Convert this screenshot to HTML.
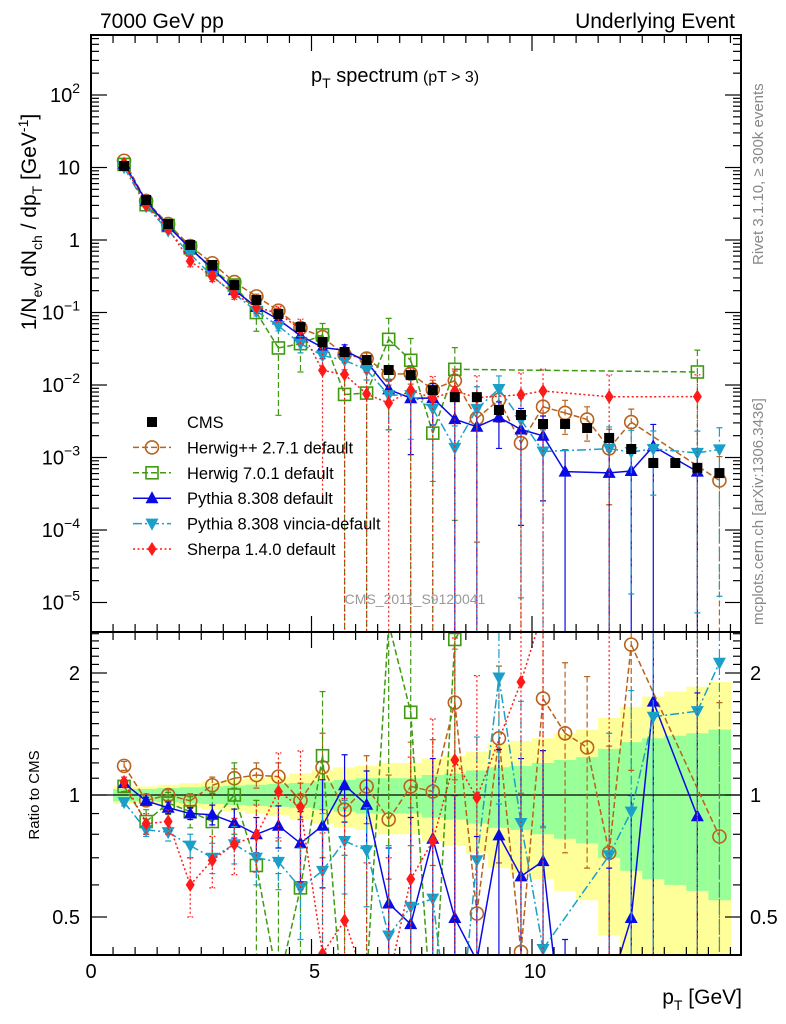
<!DOCTYPE html>
<html><head><meta charset="utf-8"><style>
html,body{margin:0;padding:0;background:#fff;width:786px;height:1024px;overflow:hidden;}
svg{display:block;font-family:"Liberation Sans",sans-serif;overflow:hidden;}
</style></head><body>
<svg id="chart" width="786" height="1024" viewBox="0 0 786 1024" xmlns="http://www.w3.org/2000/svg">
<defs>
<clipPath id="clipU"><rect x="91" y="35" width="650" height="597"/></clipPath>
<clipPath id="clipR"><rect x="91" y="632" width="650" height="323"/></clipPath>
</defs>
<g id="bands" clip-path="url(#clipR)"></g>
<g id="marksR" clip-path="url(#clipR)"></g>
<g id="marksU" clip-path="url(#clipU)"></g>
<g id="axes"></g>
<text x="100" y="28" font-size="21">7000 GeV pp</text>
<text x="735" y="28" font-size="21" text-anchor="end">Underlying Event</text>
<text x="311" y="82" font-size="20">p<tspan font-size="14" dy="6">T</tspan><tspan dy="-6"> spectrum</tspan><tspan font-size="16"> (pT &gt;  3)</tspan></text>
<text transform="translate(36,222) rotate(-90)" font-size="21" text-anchor="middle">1/N<tspan font-size="14" dy="6">ev</tspan><tspan dy="-6"> dN</tspan><tspan font-size="14" dy="6">ch</tspan><tspan dy="-6"> / dp</tspan><tspan font-size="14" dy="6">T</tspan><tspan dy="-6"> [GeV</tspan><tspan font-size="14" dy="-8">-1</tspan><tspan dy="8">]</tspan></text>
<text transform="translate(39,795) rotate(-90)" font-size="15" text-anchor="middle">Ratio to CMS</text>
<text x="742" y="1004" font-size="21" text-anchor="end">p<tspan font-size="14" dy="6">T</tspan><tspan dy="-6"> [GeV]</tspan></text>
<text transform="translate(763,265) rotate(-90)" font-size="15" fill="#888" text-anchor="start">Rivet 3.1.10, ≥ 300k events</text>
<text transform="translate(763,625) rotate(-90)" font-size="15" fill="#888" text-anchor="start">mcplots.cern.ch [arXiv:1306.3436]</text>
<text x="415" y="604" font-size="14" fill="#999" text-anchor="middle">CMS_2011_S9120041</text>
<g id="legend"></g>
</svg>
<script>
const ptBins = [0.75,1.25,1.75,2.25,2.75,3.25,3.75,4.25,4.75,5.25,5.75,6.25,6.75,7.25,7.75,8.25,8.75,9.25,9.75,10.25,10.75,11.25,11.75,12.25,12.75,13.25,13.75,14.25];
const cmsValues = [10.5,3.56,1.66,0.853,0.452,0.239,0.149,0.0954,0.063,0.0392,0.0285,0.0221,0.0161,0.0137,0.0085,0.0068,0.0068,0.00452,0.00386,0.0029,0.0029,0.00255,0.00186,0.00131,0.00084,0.00084,0.00072,0.00061];
const bandYellow = [.05,.05,.06,.07,.08,.09,.1,.11,.13,.15,.17,.18,.2,.2,.23,.25,.28,.34,.36,.38,.42,.45,.55,.65,.75,.8,.85,.9];
const bandGreen = [.035,.035,.04,.045,.05,.055,.06,.065,.07,.08,.09,.1,.1,.1,.12,.13,.15,.17,.18,.2,.22,.24,.3,.35,.38,.4,.42,.45];
const herwigppRatio = [1.18,0.97,1.0,0.967,1.057,1.1,1.12,1.11,0.97,1.17,0.92,1.05,0.87,1.05,1.02,1.69,0.51,1.38,0.41,1.73,1.42,1.31,0.72,2.35,null,null,null,0.79];
const herwigppErr = [.03,.03,.03,.04,.05,.06,.08,.09,.1,.25,.15,.2,.25,.3,.35,.6,.5,.7,.6,.9,.7,.65,.6,1.2,null,null,null,.9];
const herwig7Ratio = [1.05,0.86,0.955,0.91,0.86,1.0,0.67,0.34,0.59,1.25,0.26,0.35,2.65,1.6,0.255,2.42,null,null,null,null,null,null,null,null,null,null,21,null];
const herwig7Err = [.03,.06,.06,.08,.15,.2,.3,.3,.35,.55,.45,.4,2.5,1.6,.3,2.4,null,null,null,null,null,null,null,null,null,null,21,null];
const pythiaRatio = [1.07,0.967,0.93,0.9,0.894,0.853,0.8,0.84,0.76,0.84,1.057,0.946,0.54,0.48,0.78,0.497,0.39,0.795,0.63,0.687,0.22,null,0.33,0.497,1.7,null,0.886,null];
const pythiaErr = [.02,.02,.03,.03,.05,.07,.08,.1,.15,.25,.2,.2,.2,.4,.45,.5,.4,.5,.6,.6,.22,null,.33,.5,1.7,null,.9,null];
const vinciaRatio = [0.96,0.82,0.81,0.75,0.7,0.756,0.7,0.684,0.59,0.65,0.77,0.73,0.45,0.53,0.555,0.2,0.69,1.95,0.853,0.417,null,null,0.71,0.91,1.56,null,1.61,2.12];
const vinciaErr = [.02,.03,.04,.05,.06,.08,.1,.1,.15,.25,.2,.2,.3,.4,.5,.2,.7,1.0,.85,.42,null,null,.71,.9,1.2,null,1.6,2.1];
const sherpaRatio = [1.077,0.85,0.86,0.6,0.69,0.756,0.795,1.02,0.934,0.406,0.49,0.34,0.35,0.62,0.77,1.22,0.985,null,1.9,2.85,null,null,3.7,null,null,null,9.6,null];
const sherpaErr = [.03,.05,.06,.1,.1,.12,.15,.25,.35,.4,.49,.34,.35,.62,.77,1.22,.985,null,1.9,2.85,null,null,3.7,null,null,null,9.6,null];
const xTicksMajor = [0,5,10];
const upperDecades = [-5,-4,-3,-2,-1,0,1,2];
const ratioLabels = [0.5,1,2];

const NS = "http://www.w3.org/2000/svg";
const X = x => 91 + 44.1 * x;
const YU = v => 240 - 72.5 * Math.log10(v);
const YR = r => 795 - 122 * Math.log2(r);
function mk(tag, attrs, parent) {
  const e = document.createElementNS(NS, tag);
  for (const k in attrs) e.setAttribute(k, attrs[k]);
  parent.appendChild(e);
  return e;
}
const axes = document.getElementById('axes');
const bands = document.getElementById('bands');
const marksU = document.getElementById('marksU');
const marksR = document.getElementById('marksR');
const legend = document.getElementById('legend');

ptBins.forEach((x, i) => {
  const x0 = X(x - 0.25), x1 = X(x + 0.25);
  const ly = Math.max(1 - bandYellow[i], 0.4), lg = Math.max(1 - bandGreen[i], 0.4);
  const yt = Math.max(YR(1 + bandYellow[i]), 632), gt = Math.max(YR(1 + bandGreen[i]), 632);
  const y = mk('rect', {x: x0, y: yt, width: x1 - x0 + 0.5, height: Math.min(YR(ly), 955) - yt, fill: '#ffff99'}, bands);
  
  
  const g = mk('rect', {x: x0, y: gt, width: x1 - x0 + 0.5, height: Math.min(YR(lg), 955) - gt, fill: '#99ff99'}, bands);
  
  
});
const unity = mk('line', {x1: 91, x2: 741, y1: YR(1), y2: YR(1), stroke: '#000', 'stroke-width': 1.3}, marksR);



function marker(type, color, cx, cy, parent) {
  let e;
  if (type === 'square') e = mk('rect', {x: cx - 5, y: cy - 5, width: 10, height: 10, fill: '#000'}, parent);
  else if (type === 'circle') e = mk('circle', {cx, cy, r: 6.5, fill: 'none', stroke: color, 'stroke-width': 1.6}, parent);
  else if (type === 'osquare') e = mk('rect', {x: cx - 6, y: cy - 6, width: 12, height: 12, fill: 'none', stroke: color, 'stroke-width': 1.6}, parent);
  else if (type === 'tri') e = mk('polygon', {points: `${cx},${cy-7} ${cx-6.5},${cy+5} ${cx+6.5},${cy+5}`, fill: color}, parent);
  else if (type === 'itri') e = mk('polygon', {points: `${cx},${cy+7} ${cx-6.5},${cy-5} ${cx+6.5},${cy-5}`, fill: color}, parent);
  else if (type === 'diamond') e = mk('polygon', {points: `${cx},${cy-7} ${cx-4.5},${cy} ${cx},${cy+7} ${cx+4.5},${cy}`, fill: color}, parent);
  return e;
}

const series = [
  {name: 'herwigpp', label: 'Herwig++ 2.7.1 default', ratio: herwigppRatio, err: herwigppErr, color: '#b8621b', dash: '6,3', m: 'circle'},
  {name: 'herwig7', label: 'Herwig 7.0.1 default', ratio: herwig7Ratio, err: herwig7Err, color: '#3f9a12', dash: '6,3', m: 'osquare'},
  {name: 'pythia', label: 'Pythia 8.308 default', ratio: pythiaRatio, err: pythiaErr, color: '#0a0ae6', dash: '', m: 'tri'},
  {name: 'vincia', label: 'Pythia 8.308 vincia-default', ratio: vinciaRatio, err: vinciaErr, color: '#1a9fc8', dash: '9,3,2,3', m: 'itri'},
  {name: 'sherpa', label: 'Sherpa 1.4.0 default', ratio: sherpaRatio, err: sherpaErr, color: '#ff1a1a', dash: '2,2.5', m: 'diamond'}
];

function clipSeg(a, b, top, bottom) {
  let [x1, y1] = a, [x2, y2] = b;
  if ((y1 < top && y2 < top) || (y1 > bottom && y2 > bottom)) return null;
  const at = y => x1 + (x2 - x1) * (y - y1) / (y2 - y1);
  if (y1 < top) { x1 = at(top); y1 = top; } else if (y1 > bottom) { x1 = at(bottom); y1 = bottom; }
  [x1, y1] = [x1, y1];
  const ox1 = a[0], oy1 = a[1];
  const at2 = y => ox1 + (x2 - ox1) * (y - oy1) / (y2 - oy1);
  if (y2 < top) { x2 = at2(top); y2 = top; } else if (y2 > bottom) { x2 = at2(bottom); y2 = bottom; }
  return [x1, y1, x2, y2];
}

function drawSeries(s, panel) {
  const g = mk('g', {}, panel === 'U' ? marksU : marksR);
  
  
  const bottom = panel === 'U' ? 632 : 955;
  const top = panel === 'U' ? 35 : 632;
  const pts = [];
  s.ratio.forEach((r, i) => {
    if (r === null) return;
    const cms = cmsValues[i];
    const val = panel === 'U' ? r * cms : r;
    const e = s.err[i];
    const hi = panel === 'U' ? (r + e) * cms : r + e;
    const lo = panel === 'U' ? (r - e) * cms : r - e;
    const Yf = panel === 'U' ? YU : YR;
    const cx = X(ptBins[i]), cy = Yf(val);
    const yHi = Math.max(Math.min(Yf(hi), bottom), top), yLo = lo > 0 ? Math.max(Math.min(Yf(lo), bottom), top) : bottom;
    if (yLo > yHi) {
      const eb = mk('path', {d: `M${cx},${yHi}L${cx},${yLo}M${cx-3},${yHi}L${cx+3},${yHi}M${cx-3},${yLo}L${cx+3},${yLo}`, stroke: s.color, 'stroke-width': 1.2, fill: 'none', 'stroke-dasharray': s.dash}, g);
      
      
    }
    pts.push([cx, cy]);
  });
  let d = '';
  for (let k = 0; k + 1 < pts.length; k++) {
    const c = clipSeg(pts[k], pts[k + 1], top, bottom);
    if (c) d += `M${c[0]},${c[1]}L${c[2]},${c[3]}`;
  }
  if (d) {
    const ln = mk('path', {d, fill: 'none', stroke: s.color, 'stroke-width': 1.5, 'stroke-dasharray': s.dash}, g);
    
    
  }
  pts.forEach(p => {
    if (p[1] < top - 2 || p[1] > bottom + 2) return;
    const mm = marker(s.m, s.color, p[0], p[1], g);
    
    
  });
}
series.forEach(s => drawSeries(s, 'R'));
series.forEach(s => drawSeries(s, 'U'));
const cmsG = mk('g', {}, marksU);


cmsValues.forEach((v, i) => {
  const p = marker('square', '#000', X(ptBins[i]), YU(v), cmsG);
  
  
});

[[35, 632], [632, 955]].forEach(([t, b]) => {
  const f = mk('rect', {x: 91, y: t, width: 650, height: b - t, fill: 'none', stroke: '#000', 'stroke-width': 2}, axes);
  
  
});
for (let k = 0; k <= 29; k++) {
  const x = X(k * 0.5);
  if (x > 741) break;
  const major = (k % 10 === 0);
  const len = major ? 16 : 8;
  [[35, 1], [632, -1], [632, 1], [955, -1]].forEach(([y0, dir]) => {
    const t = mk('line', {x1: x, x2: x, y1: y0, y2: y0 + dir * len, stroke: '#000', 'stroke-width': 1.2}, axes);
    
    
  });
}
xTicksMajor.forEach(v => {
  const t = mk('text', {x: X(v) + (v === 0 ? 0 : 3), y: 978, 'font-size': 20, 'text-anchor': 'middle'}, axes);
  t.textContent = String(v);
  
  
});
upperDecades.forEach(d => {
  for (let m = 1; m <= 9; m++) {
    const y = YU(m * Math.pow(10, d));
    if (y < 35 || y > 632) continue;
    const len = m === 1 ? 16 : 8;
    [[91, 1], [741, -1]].forEach(([x0, dir]) => {
      const t = mk('line', {x1: x0, x2: x0 + dir * len, y1: y, y2: y, stroke: '#000', 'stroke-width': 1.2}, axes);
      
      
    });
  }
  const y = YU(Math.pow(10, d));
  const t = mk('text', {x: 80, y: y + 7, 'font-size': 20, 'text-anchor': 'end'}, axes);
  
  
  if (d === 0) t.textContent = '1';
  else if (d === 1) t.textContent = '10';
  else {
    t.textContent = '10';
    const sp = mk('tspan', {'font-size': 14, dy: -9}, t);
    sp.textContent = d === 2 ? '2' : '\u2212' + (-d);
  }
});
for (let i = 4; i <= 25; i++) {
  const rr = i / 10;
  const y = YR(rr);
  if (y < 632 || y > 955) continue;
  const major = (i === 5 || i === 10 || i === 20);
  const len = major ? 16 : 8;
  [[91, 1], [741, -1]].forEach(([x0, dir]) => {
    const t = mk('line', {x1: x0, x2: x0 + dir * len, y1: y, y2: y, stroke: '#000', 'stroke-width': 1.2}, axes);
    
    
  });
}
ratioLabels.forEach(r => {
  [[80, 'end'], [750, 'start']].forEach(([x, a]) => {
    const t = mk('text', {x, y: YR(r) + 7, 'font-size': 20, 'text-anchor': a}, axes);
    t.textContent = String(r);
    
    
  });
});
const legItems = [{label: 'CMS', m: 'square', color: '#000', dash: ''}].concat(series);
legItems.forEach((s, i) => {
  const y = 422 + i * 25.4;
  const g = mk('g', {}, legend);
  
  
  if (s.m !== 'square') {
    const l = mk('line', {x1: 133, x2: 171, y1: y, y2: y, stroke: s.color, 'stroke-width': 1.5, 'stroke-dasharray': s.dash}, g);
    
    
  }
  const mm = marker(s.m, s.color, 152, y, g);
  
  
  const t = mk('text', {x: 187, y: y + 6, 'font-size': 16.5}, g);
  t.textContent = s.label;
  
  
});
</script>
</body></html>
